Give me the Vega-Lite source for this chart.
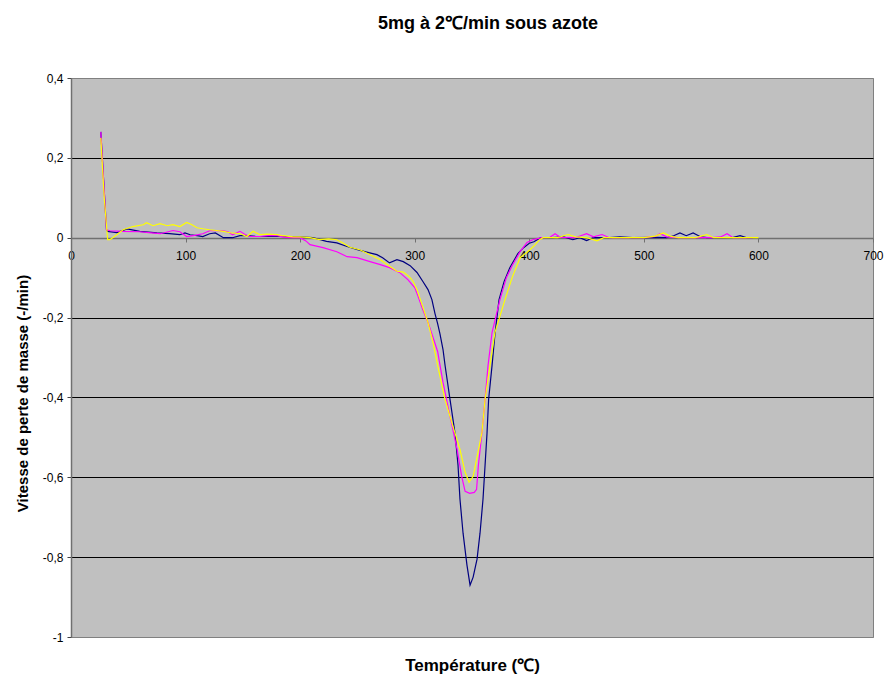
{
  "$schema": "https://vega.github.io/schema/vega-lite/v6.json",
  "width": 802,
  "height": 559,
  "autosize": "none",
  "padding": {"left": 71, "top": 78, "right": 11, "bottom": 41},
  "background": "white",
  "title": {
    "text": "5mg à 2℃/min sous azote",
    "font": "Liberation Sans",
    "fontSize": 18,
    "fontWeight": "bold",
    "color": "black",
    "anchor": "middle",
    "frame": "group",
    "dx": 16,
    "baseline": "middle",
    "offset": 30
  },
  "config": {
    "view": {"fill": "#C0C0C0", "stroke": "#808080", "strokeWidth": 1},
    "axis": {"labelFont": "Liberation Sans", "labelFontSize": 11, "labelColor": "black", "titleFont": "Liberation Sans", "titleFontWeight": "bold", "titleColor": "black", "titleFontSize": 14}
  },
  "datasets": {
    "curves": [
      {"T": 26, "v": 0.265, "s": "1"}, {"T": 31, "v": 0.02, "s": "1"}, {"T": 32, "v": 0.016, "s": "1"}, {"T": 40, "v": 0.013, "s": "1"}, {"T": 49, "v": 0.022, "s": "1"}, {"T": 60, "v": 0.016, "s": "1"}, {"T": 75, "v": 0.012, "s": "1"}, {"T": 86, "v": 0.01, "s": "1"}, {"T": 95, "v": 0.0075, "s": "1"}, {"T": 99.5, "v": 0.012, "s": "1"}, {"T": 104, "v": 0.0075, "s": "1"}, {"T": 110, "v": 0.005, "s": "1"}, {"T": 115, "v": 0.003, "s": "1"}, {"T": 121, "v": 0.01, "s": "1"}, {"T": 126, "v": 0.012, "s": "1"}, {"T": 133, "v": 0.0, "s": "1"}, {"T": 141, "v": 0.0, "s": "1"}, {"T": 147.5, "v": 0.005, "s": "1"}, {"T": 153.6, "v": 0.005, "s": "1"}, {"T": 162, "v": 0.003, "s": "1"}, {"T": 174, "v": 0.003, "s": "1"}, {"T": 182, "v": 0.003, "s": "1"}, {"T": 191, "v": 0.002, "s": "1"}, {"T": 200, "v": 0.002, "s": "1"}, {"T": 211, "v": 0.0, "s": "1"}, {"T": 223, "v": -0.009, "s": "1"}, {"T": 232, "v": -0.013, "s": "1"}, {"T": 241, "v": -0.022, "s": "1"}, {"T": 250, "v": -0.03, "s": "1"}, {"T": 258, "v": -0.036, "s": "1"}, {"T": 267, "v": -0.0425, "s": "1"}, {"T": 272, "v": -0.05, "s": "1"}, {"T": 278, "v": -0.063, "s": "1"}, {"T": 284.5, "v": -0.055, "s": "1"}, {"T": 290, "v": -0.06, "s": "1"}, {"T": 296, "v": -0.07, "s": "1"}, {"T": 302, "v": -0.087, "s": "1"}, {"T": 307, "v": -0.109, "s": "1"}, {"T": 311.6, "v": -0.13, "s": "1"}, {"T": 315, "v": -0.155, "s": "1"}, {"T": 317.7, "v": -0.19, "s": "1"}, {"T": 320, "v": -0.215, "s": "1"}, {"T": 322, "v": -0.24, "s": "1"}, {"T": 324.7, "v": -0.28, "s": "1"}, {"T": 326.5, "v": -0.32, "s": "1"}, {"T": 330.8, "v": -0.405, "s": "1"}, {"T": 335.2, "v": -0.49, "s": "1"}, {"T": 337.8, "v": -0.57, "s": "1"}, {"T": 339.5, "v": -0.655, "s": "1"}, {"T": 342.2, "v": -0.74, "s": "1"}, {"T": 345.6, "v": -0.82, "s": "1"}, {"T": 348.3, "v": -0.87, "s": "1"}, {"T": 351, "v": -0.85, "s": "1"}, {"T": 354.4, "v": -0.805, "s": "1"}, {"T": 357, "v": -0.74, "s": "1"}, {"T": 359.6, "v": -0.655, "s": "1"}, {"T": 361.4, "v": -0.57, "s": "1"}, {"T": 363.1, "v": -0.49, "s": "1"}, {"T": 364.5, "v": -0.405, "s": "1"}, {"T": 367.5, "v": -0.32, "s": "1"}, {"T": 370.1, "v": -0.24, "s": "1"}, {"T": 373.6, "v": -0.155, "s": "1"}, {"T": 378, "v": -0.11, "s": "1"}, {"T": 383, "v": -0.075, "s": "1"}, {"T": 390, "v": -0.04, "s": "1"}, {"T": 395, "v": -0.025, "s": "1"}, {"T": 400, "v": -0.014, "s": "1"}, {"T": 404, "v": -0.01, "s": "1"}, {"T": 410, "v": 0.0, "s": "1"}, {"T": 420, "v": 0.0, "s": "1"}, {"T": 430, "v": 0.002, "s": "1"}, {"T": 438, "v": -0.005, "s": "1"}, {"T": 444, "v": 0.0, "s": "1"}, {"T": 450, "v": -0.007, "s": "1"}, {"T": 456, "v": 0.0, "s": "1"}, {"T": 470, "v": 0.0, "s": "1"}, {"T": 479, "v": 0.002, "s": "1"}, {"T": 490, "v": 0.0, "s": "1"}, {"T": 510, "v": 0.001, "s": "1"}, {"T": 520, "v": 0.0, "s": "1"}, {"T": 526, "v": 0.005, "s": "1"}, {"T": 531.5, "v": 0.012, "s": "1"}, {"T": 537, "v": 0.005, "s": "1"}, {"T": 543, "v": 0.012, "s": "1"}, {"T": 549, "v": 0.003, "s": "1"}, {"T": 555, "v": 0.0, "s": "1"}, {"T": 570, "v": 0.0, "s": "1"}, {"T": 578, "v": 0.001, "s": "1"}, {"T": 584, "v": 0.005, "s": "1"}, {"T": 590, "v": 0.0, "s": "1"}, {"T": 595, "v": 0.0, "s": "1"},

      {"T": 26, "v": 0.265, "s": "2"}, {"T": 31, "v": 0.02, "s": "2"}, {"T": 34, "v": 0.0175, "s": "2"}, {"T": 45, "v": 0.016, "s": "2"}, {"T": 60, "v": 0.015, "s": "2"}, {"T": 70, "v": 0.012, "s": "2"}, {"T": 78, "v": 0.01, "s": "2"}, {"T": 89, "v": 0.018, "s": "2"}, {"T": 95, "v": 0.015, "s": "2"}, {"T": 101, "v": 0.003, "s": "2"}, {"T": 108, "v": 0.006, "s": "2"}, {"T": 115, "v": 0.01, "s": "2"}, {"T": 121, "v": 0.0175, "s": "2"}, {"T": 133, "v": 0.0175, "s": "2"}, {"T": 137, "v": 0.015, "s": "2"}, {"T": 141, "v": 0.0075, "s": "2"}, {"T": 147.5, "v": 0.016, "s": "2"}, {"T": 152, "v": 0.008, "s": "2"}, {"T": 156, "v": 0.003, "s": "2"}, {"T": 165, "v": 0.003, "s": "2"}, {"T": 172, "v": 0.005, "s": "2"}, {"T": 180, "v": 0.005, "s": "2"}, {"T": 187, "v": 0.001, "s": "2"}, {"T": 195, "v": 0.0, "s": "2"}, {"T": 200, "v": 0.0, "s": "2"}, {"T": 205, "v": -0.008, "s": "2"}, {"T": 208.6, "v": -0.0175, "s": "2"}, {"T": 220, "v": -0.025, "s": "2"}, {"T": 232, "v": -0.035, "s": "2"}, {"T": 241, "v": -0.0475, "s": "2"}, {"T": 249.6, "v": -0.05, "s": "2"}, {"T": 261, "v": -0.06, "s": "2"}, {"T": 270, "v": -0.0675, "s": "2"}, {"T": 278, "v": -0.075, "s": "2"}, {"T": 287, "v": -0.0875, "s": "2"}, {"T": 294, "v": -0.105, "s": "2"}, {"T": 300, "v": -0.125, "s": "2"}, {"T": 303, "v": -0.1475, "s": "2"}, {"T": 307, "v": -0.18, "s": "2"}, {"T": 311.6, "v": -0.2125, "s": "2"}, {"T": 316, "v": -0.25, "s": "2"}, {"T": 320, "v": -0.285, "s": "2"}, {"T": 324.7, "v": -0.3625, "s": "2"}, {"T": 330.8, "v": -0.4475, "s": "2"}, {"T": 337, "v": -0.53, "s": "2"}, {"T": 341, "v": -0.5975, "s": "2"}, {"T": 344, "v": -0.635, "s": "2"}, {"T": 348, "v": -0.64, "s": "2"}, {"T": 352, "v": -0.638, "s": "2"}, {"T": 354, "v": -0.63, "s": "2"}, {"T": 355.5, "v": -0.5725, "s": "2"}, {"T": 358.7, "v": -0.4875, "s": "2"}, {"T": 361.4, "v": -0.405, "s": "2"}, {"T": 364, "v": -0.32, "s": "2"}, {"T": 367.5, "v": -0.2375, "s": "2"}, {"T": 374.4, "v": -0.155, "s": "2"}, {"T": 380, "v": -0.1, "s": "2"}, {"T": 385, "v": -0.07, "s": "2"}, {"T": 392, "v": -0.035, "s": "2"}, {"T": 398, "v": -0.012, "s": "2"}, {"T": 403, "v": -0.005, "s": "2"}, {"T": 411, "v": 0.0, "s": "2"}, {"T": 418, "v": 0.001, "s": "2"}, {"T": 422.5, "v": 0.01, "s": "2"}, {"T": 427, "v": 0.001, "s": "2"}, {"T": 440, "v": 0.0, "s": "2"}, {"T": 450, "v": 0.01, "s": "2"}, {"T": 456, "v": 0.002, "s": "2"}, {"T": 463.5, "v": 0.008, "s": "2"}, {"T": 470, "v": 0.0, "s": "2"}, {"T": 500, "v": 0.0, "s": "2"}, {"T": 510, "v": 0.003, "s": "2"}, {"T": 514, "v": 0.01, "s": "2"}, {"T": 520, "v": 0.002, "s": "2"}, {"T": 530, "v": 0.0, "s": "2"}, {"T": 560, "v": 0.0, "s": "2"}, {"T": 567, "v": 0.002, "s": "2"}, {"T": 572.6, "v": 0.01, "s": "2"}, {"T": 578, "v": 0.0, "s": "2"}, {"T": 595, "v": 0.0, "s": "2"},

      {"T": 26, "v": 0.25, "s": "3"}, {"T": 29, "v": 0.1, "s": "3"}, {"T": 32, "v": -0.005, "s": "3"}, {"T": 34, "v": -0.005, "s": "3"}, {"T": 40, "v": 0.0075, "s": "3"}, {"T": 45.5, "v": 0.02, "s": "3"}, {"T": 54, "v": 0.028, "s": "3"}, {"T": 63, "v": 0.0325, "s": "3"}, {"T": 66, "v": 0.0375, "s": "3"}, {"T": 71.6, "v": 0.03, "s": "3"}, {"T": 77.7, "v": 0.035, "s": "3"}, {"T": 84, "v": 0.03, "s": "3"}, {"T": 89, "v": 0.0325, "s": "3"}, {"T": 95, "v": 0.028, "s": "3"}, {"T": 101, "v": 0.038, "s": "3"}, {"T": 105.6, "v": 0.0325, "s": "3"}, {"T": 110, "v": 0.025, "s": "3"}, {"T": 115, "v": 0.0225, "s": "3"}, {"T": 121, "v": 0.02, "s": "3"}, {"T": 127, "v": 0.018, "s": "3"}, {"T": 133, "v": 0.016, "s": "3"}, {"T": 139, "v": 0.0125, "s": "3"}, {"T": 147.5, "v": 0.01, "s": "3"}, {"T": 153.6, "v": 0.003, "s": "3"}, {"T": 159, "v": 0.016, "s": "3"}, {"T": 165, "v": 0.0075, "s": "3"}, {"T": 171, "v": 0.009, "s": "3"}, {"T": 180, "v": 0.0075, "s": "3"}, {"T": 185, "v": 0.005, "s": "3"}, {"T": 194, "v": 0.002, "s": "3"}, {"T": 200, "v": 0.002, "s": "3"}, {"T": 208.6, "v": 0.0, "s": "3"}, {"T": 217, "v": -0.005, "s": "3"}, {"T": 225, "v": -0.003, "s": "3"}, {"T": 232, "v": -0.005, "s": "3"}, {"T": 237, "v": -0.0125, "s": "3"}, {"T": 243.5, "v": -0.024, "s": "3"}, {"T": 252, "v": -0.03, "s": "3"}, {"T": 261, "v": -0.0425, "s": "3"}, {"T": 270, "v": -0.055, "s": "3"}, {"T": 278.4, "v": -0.072, "s": "3"}, {"T": 284.5, "v": -0.084, "s": "3"}, {"T": 290, "v": -0.086, "s": "3"}, {"T": 293, "v": -0.0925, "s": "3"}, {"T": 296, "v": -0.1, "s": "3"}, {"T": 298.5, "v": -0.109, "s": "3"}, {"T": 302, "v": -0.13, "s": "3"}, {"T": 307, "v": -0.1725, "s": "3"}, {"T": 311.6, "v": -0.2125, "s": "3"}, {"T": 316, "v": -0.2625, "s": "3"}, {"T": 320, "v": -0.32, "s": "3"}, {"T": 326.4, "v": -0.405, "s": "3"}, {"T": 333.4, "v": -0.4725, "s": "3"}, {"T": 339.5, "v": -0.53, "s": "3"}, {"T": 344, "v": -0.5875, "s": "3"}, {"T": 347.4, "v": -0.6125, "s": "3"}, {"T": 351, "v": -0.5975, "s": "3"}, {"T": 354, "v": -0.555, "s": "3"}, {"T": 358.7, "v": -0.4875, "s": "3"}, {"T": 361.4, "v": -0.405, "s": "3"}, {"T": 365.7, "v": -0.32, "s": "3"}, {"T": 370, "v": -0.2375, "s": "3"}, {"T": 378.8, "v": -0.155, "s": "3"}, {"T": 385, "v": -0.1, "s": "3"}, {"T": 392, "v": -0.05, "s": "3"}, {"T": 400.6, "v": -0.03, "s": "3"}, {"T": 405, "v": -0.018, "s": "3"}, {"T": 409, "v": -0.005, "s": "3"}, {"T": 412, "v": 0.0, "s": "3"}, {"T": 425, "v": 0.0, "s": "3"}, {"T": 430, "v": 0.005, "s": "3"}, {"T": 434, "v": 0.008, "s": "3"}, {"T": 440, "v": 0.002, "s": "3"}, {"T": 450, "v": 0.0, "s": "3"}, {"T": 455, "v": -0.004, "s": "3"}, {"T": 459, "v": -0.008, "s": "3"}, {"T": 465, "v": 0.0, "s": "3"}, {"T": 500, "v": 0.0, "s": "3"}, {"T": 510, "v": 0.004, "s": "3"}, {"T": 517, "v": 0.012, "s": "3"}, {"T": 523, "v": 0.004, "s": "3"}, {"T": 530, "v": 0.0, "s": "3"}, {"T": 545, "v": 0.0, "s": "3"}, {"T": 550, "v": 0.004, "s": "3"}, {"T": 555, "v": 0.008, "s": "3"}, {"T": 561, "v": 0.0, "s": "3"}, {"T": 600, "v": 0.0, "s": "3"}
    ]
  },
  "data": {"name": "curves"},
  "mark": {"type": "line", "strokeWidth": 1.2, "interpolate": "linear"},
  "encoding": {
    "x": {
      "field": "T", "type": "quantitative",
      "scale": {"domain": [0, 700], "nice": false, "zero": false},
      "axis": {
        "values": [0, 100, 200, 300, 400, 500, 600, 700],
        "offset": -399,
        "grid": false,
        "domainColor": "#707070",
        "domainWidth": 1.5,
        "tickColor": "#707070",
        "tickSize": 4,
        "labelPadding": 8,
        "labelFontSize": 12,
        "labelFlush": false,
        "title": "Température (℃)",
        "titleY": 427,
        "titleBaseline": "middle",
        "titleFontSize": 17
      }
    },
    "y": {
      "field": "v", "type": "quantitative",
      "scale": {"domain": [-1, 0.4], "nice": false, "zero": false},
      "axis": {
        "values": [-1, -0.8, -0.6, -0.4, -0.2, 0, 0.2, 0.4],
        "labelExpr": "(datum.value < 0 ? '-' : '') + replace(format(abs(datum.value), '.1~f'), '.', ',')",
        "grid": true,
        "gridColor": {"condition": {"test": "datum.value > 0.3 || datum.value < -0.9 || abs(datum.value) < 0.01", "value": "#808080"}, "value": "black"},
        "gridWidth": 1,
        "domainColor": "#707070",
        "domainWidth": 1.5,
        "tickColor": "#404040",
        "tickSize": 4,
        "labelPadding": 4,
        "labelFontSize": 12,
        "title": "Vitesse de perte de masse (-/min)",
        "titleX": -49,
        "titleY": 315,
        "titleAlign": "center",
        "titleBaseline": "middle",
        "titleFontSize": 15
      }
    },
    "color": {
      "field": "s", "type": "nominal",
      "scale": {"domain": ["1", "2", "3"], "range": ["#000080", "#FF00FF", "#FFFF00"]},
      "legend": null
    },
    "order": {"field": "T", "type": "quantitative"}
  }
}
